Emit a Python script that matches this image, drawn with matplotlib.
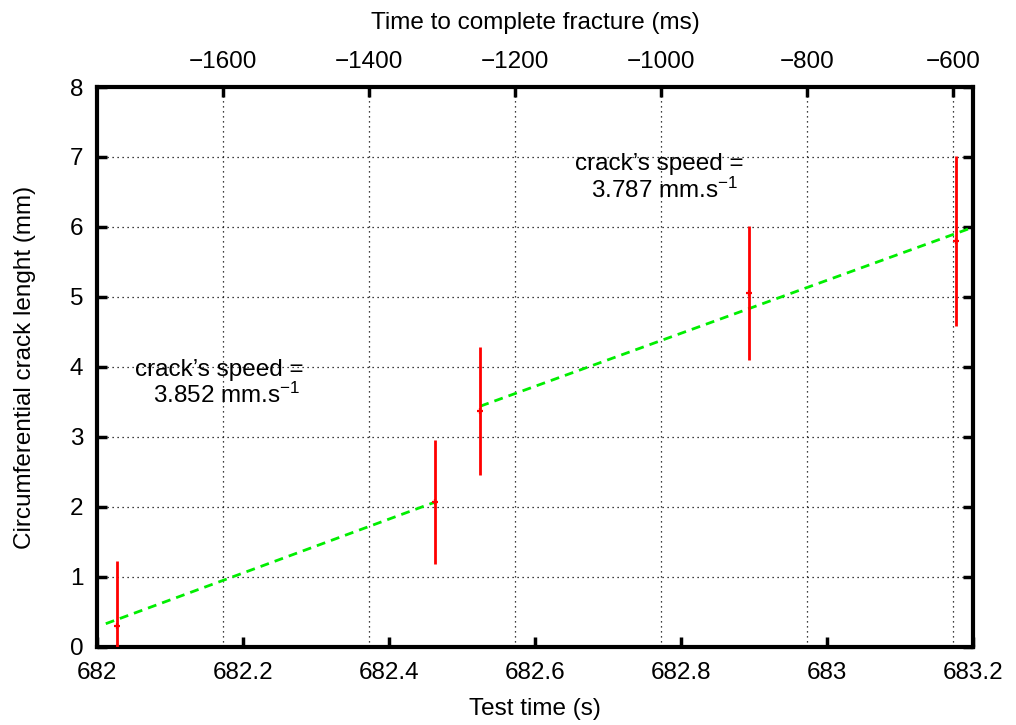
import matplotlib
matplotlib.use("Agg")
import matplotlib.pyplot as plt
import numpy as np

plt.rcParams['font.family'] = ['Liberation Sans', 'DejaVu Sans']
plt.rcParams['mathtext.fontset'] = 'custom'
plt.rcParams['mathtext.rm'] = 'Liberation Sans'
plt.rcParams['mathtext.it'] = 'Liberation Sans:italic'
plt.rcParams['axes.unicode_minus'] = True

# Data
test_time = [682.027, 682.463, 682.525, 682.893, 683.177]
crack_len = [0.30, 2.07, 3.37, 5.06, 5.80]
crack_err = [0.93, 0.89, 0.92, 0.96, 1.21]

fracture_time = 683.7726  # s, time of complete fracture

fit1_x = [682.012, 682.463]
fit1_slope = 3.852
fit1_y_end = 2.07
fit2_x = [682.525, 683.2]
fit2_slope = 3.787
fit2_y_start = 3.44

top_ticks = [-1600, -1400, -1200, -1000, -800, -600]
x_ticks = [682, 682.2, 682.4, 682.6, 682.8, 683, 683.2]
x_ticklabels = ['682', '682.2', '682.4', '682.6', '682.8', '683', '683.2']
y_ticks = [0, 1, 2, 3, 4, 5, 6, 7, 8]

FS = 17.5

fig = plt.figure(figsize=(10.16, 7.25), dpi=100)
ax = fig.add_axes([0.0955, 0.1076, 0.8622, 0.7724])

ax.set_xlim(682, 683.2)
ax.set_ylim(0, 8)

# fits
f1x = np.array(fit1_x)
f1y = fit1_y_end + fit1_slope * (f1x - fit1_x[1])
f2x = np.array(fit2_x)
f2y = fit2_y_start + fit2_slope * (f2x - fit2_x[0])
ax.plot(f1x, f1y, color='#00ee00', ls=(0, (3.2, 2.2)), lw=2.0, zorder=3)
ax.plot(f2x, f2y, color='#00ee00', ls=(0, (3.2, 2.2)), lw=2.0, zorder=3, clip_on=False)

ax.errorbar(test_time, crack_len, yerr=crack_err, fmt='+', color='red',
            ms=5, mew=1.6, elinewidth=2.0, capsize=0, zorder=4)

ax.set_xticks(x_ticks)
ax.set_xticklabels(x_ticklabels)
ax.set_yticks(y_ticks)
ax.tick_params(axis='both', direction='in', length=7, width=2.5, labelsize=FS,
               right=True)
ax.tick_params(axis='x', top=False, pad=11)
ax.tick_params(axis='y', pad=10)
ax.grid(axis='y', color='black', ls=(0, (1, 3)), lw=0.9)
for s in ax.spines.values():
    s.set_linewidth(3)

ax.set_xlabel('Test time (s)', fontsize=FS, labelpad=10)
ax.set_ylabel('Circumferential crack lenght (mm)', fontsize=FS, labelpad=24)

# secondary top axis
def fwd(x):
    return (np.asarray(x) - fracture_time) * 1000.0

def inv(t):
    return np.asarray(t) / 1000.0 + fracture_time

sec = ax.secondary_xaxis('top', functions=(fwd, inv))
sec.set_xticks(top_ticks)
sec.tick_params(direction='in', length=7, width=2.5, labelsize=FS, pad=10)
sec.set_xlabel('Time to complete fracture (ms)', fontsize=FS, labelpad=16)
for t in top_ticks:
    ax.axvline(inv(t), color='black', ls=(0, (1, 3)), lw=0.9, zorder=1)

ax.text(682.168, 3.87, "crack\u2019s speed =", fontsize=FS, ha='center', va='baseline')
ax.text(682.177, 3.49, "3.852 mm.s$^{-1}$", fontsize=FS, ha='center', va='baseline')
ax.text(682.770, 6.81, "crack\u2019s speed =", fontsize=FS, ha='center', va='baseline')
ax.text(682.778, 6.41, "3.787 mm.s$^{-1}$", fontsize=FS, ha='center', va='baseline')

fig.savefig('out.png', dpi=100)
